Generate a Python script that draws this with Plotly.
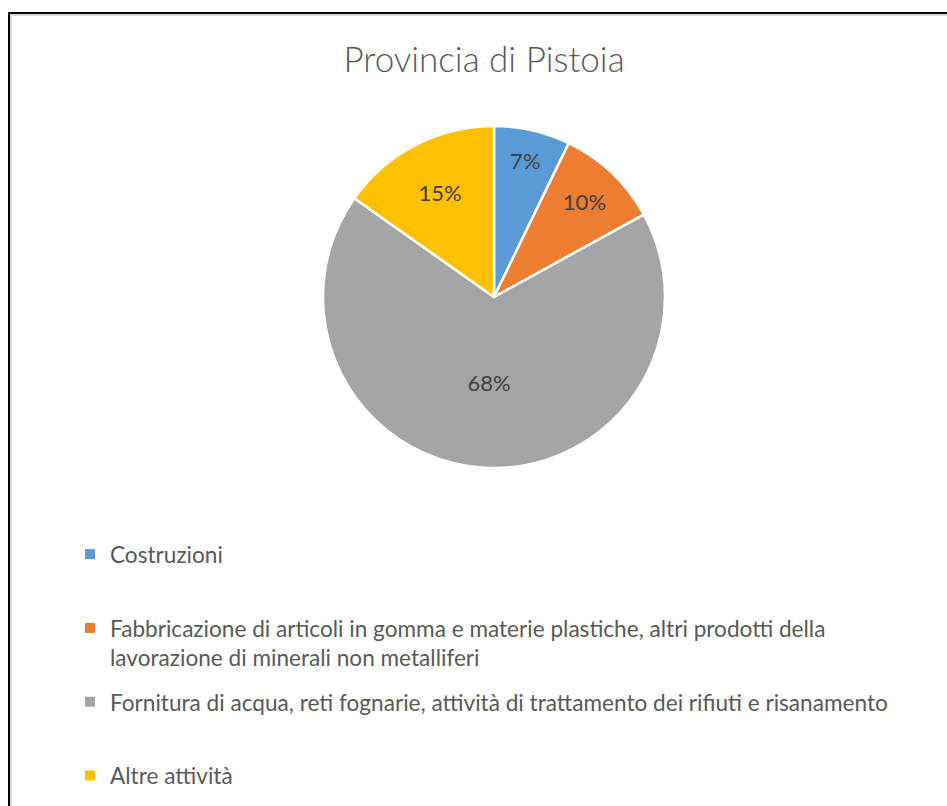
import plotly.graph_objects as go

categories = [
    "Costruzioni",
    "Fabbricazione di articoli in gomma e materie plastiche, altri prodotti della<br>lavorazione di minerali non metalliferi",
    "Fornitura di acqua, reti fognarie, attività di trattamento dei rifiuti e risanamento",
    "Altre attività",
]
values = [7.2, 9.8, 67.8, 15.2]
colors = ["#5B9BD5", "#ED7D31", "#A5A5A5", "#FFC000"]
title_text = "Provincia di Pistoia"

W, H = 947, 806
cx, cy, R = 494, 297, 171

fig = go.Figure()
fig.add_trace(go.Pie(
    labels=categories,
    values=values,
    sort=False,
    direction="clockwise",
    rotation=0,
    marker=dict(colors=colors, line=dict(color="white", width=2.5)),
    texttemplate="%{percent:.0%}",
    textposition="inside",
    insidetextorientation="horizontal",
    textfont=dict(family="Lato", size=22, color="#404040"),
    showlegend=False,
    hoverinfo="label+percent",
    domain=dict(x=[(cx - R) / W, (cx + R) / W], y=[(H - cy - R) / H, (H - cy + R) / H]),
))

# legend entries (one per category) with equal slot spacing
for i, (name, col) in enumerate(zip(categories, colors)):
    label = name if "<br>" in name or i == len(categories) - 1 else name + "<br> "
    fig.add_trace(go.Scatter(
        x=[None], y=[None], mode="markers", name=label,
        marker=dict(symbol="square", size=10, color=col),
        legendgroup=f"g{i}", showlegend=True,
    ))

fig.update_layout(
    width=W, height=H,
    margin=dict(l=0, r=0, t=0, b=0),
    paper_bgcolor="white", plot_bgcolor="white",
    title=dict(text=title_text, x=484 / W, xanchor="center", y=1 - 60 / H, yanchor="middle",
               font=dict(family="Lato", size=35, color="#595959", weight=300)),
    xaxis=dict(visible=False), yaxis=dict(visible=False),
    legend=dict(
        x=70 / W, xanchor="left", y=1 - 533 / H, yanchor="top",
        font=dict(family="Lato", size=22.6, color="#595959"),
        traceorder="grouped", tracegroupgap=12, valign="top",
        bgcolor="rgba(0,0,0,0)",
    ),
    shapes=[
        dict(type="line", xref="paper", yref="paper", x0=8 / W, x1=1, y0=1 - 13 / H, y1=1 - 13 / H,
             line=dict(color="black", width=2)),
        dict(type="line", xref="paper", yref="paper", x0=9 / W, x1=9 / W, y0=0, y1=1 - 12 / H,
             line=dict(color="black", width=2)),
        dict(type="line", xref="paper", yref="paper", x0=11 / W, x1=1, y0=1 - 15 / H, y1=1 - 15 / H,
             line=dict(color="#d9d9d9", width=2)),
        dict(type="line", xref="paper", yref="paper", x0=11 / W, x1=11 / W, y0=0, y1=1 - 15 / H,
             line=dict(color="#d9d9d9", width=2)),
    ],
)

fig.write_html("out.html", config={"displayModeBar": False},
               post_script="document.body.style.margin='0';")
